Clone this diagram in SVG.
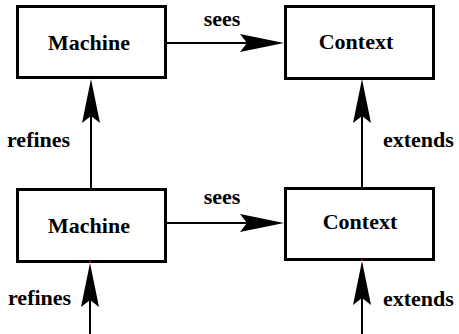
<svg xmlns="http://www.w3.org/2000/svg" width="459" height="334" viewBox="0 0 459 334">
<style>
.box{fill:#fff;stroke:#000;stroke-width:3}
.lbl{font-family:"Liberation Serif","Times New Roman",serif;font-weight:bold;font-size:22px;fill:#000}
.edge{font-family:"Liberation Serif","Times New Roman",serif;font-weight:bold;font-size:22px;fill:#000}
.ln{stroke:#000;stroke-width:2;fill:none}
</style>
<defs>
<path id="ah" d="M0,0 L-44,-9 L-37,0 L-44,9 Z" fill="#000"/>
</defs>
<rect width="459" height="334" fill="#fff"/>
<g id="machine1"><rect class="box" x="17.5" y="6.5" width="148" height="71"/><text class="lbl" x="89" y="50" text-anchor="middle">Machine</text></g>
<g id="context1"><rect class="box" x="285.5" y="6.5" width="148" height="72"/><text class="lbl" x="356" y="49" text-anchor="middle">Context</text></g>
<g id="machine2"><rect class="box" x="17.5" y="189.5" width="148" height="72"/><text class="lbl" x="89" y="233" text-anchor="middle">Machine</text></g>
<g id="context2"><rect class="box" x="285.5" y="188.5" width="148" height="71"/><text class="lbl" x="360" y="229" text-anchor="middle">Context</text></g>
<g id="connectors">
<line class="ln" x1="166" y1="43" x2="250" y2="43"/><use href="#ah" transform="translate(284,43)"/>
<text class="edge" x="222" y="26" text-anchor="middle">sees</text>
<line class="ln" x1="166" y1="223" x2="250" y2="223"/><use href="#ah" transform="translate(284,223)"/>
<text class="edge" x="222" y="204" text-anchor="middle">sees</text>
<line class="ln" x1="91" y1="189" x2="91" y2="110"/><use href="#ah" transform="translate(91,79) rotate(-90)"/>
<text class="edge" x="7" y="147">refines</text>
<line class="ln" x1="362" y1="188" x2="362" y2="110"/><use href="#ah" transform="translate(362,79) rotate(-90)"/>
<text class="edge" x="383" y="147">extends</text>
<line class="ln" x1="90" y1="334" x2="90" y2="290"/><use href="#ah" transform="translate(90,263) rotate(-90)"/>
<text class="edge" x="8" y="305">refines</text>
<line class="ln" x1="362" y1="334" x2="362" y2="290"/><use href="#ah" transform="translate(362,261) rotate(-90)"/>
<text class="edge" x="383" y="306">extends</text>
<rect x="89" y="261" width="2" height="1.5" fill="#e00"/>
<rect x="361" y="259.5" width="2" height="1.5" fill="#e00"/>
</g>
</svg>
